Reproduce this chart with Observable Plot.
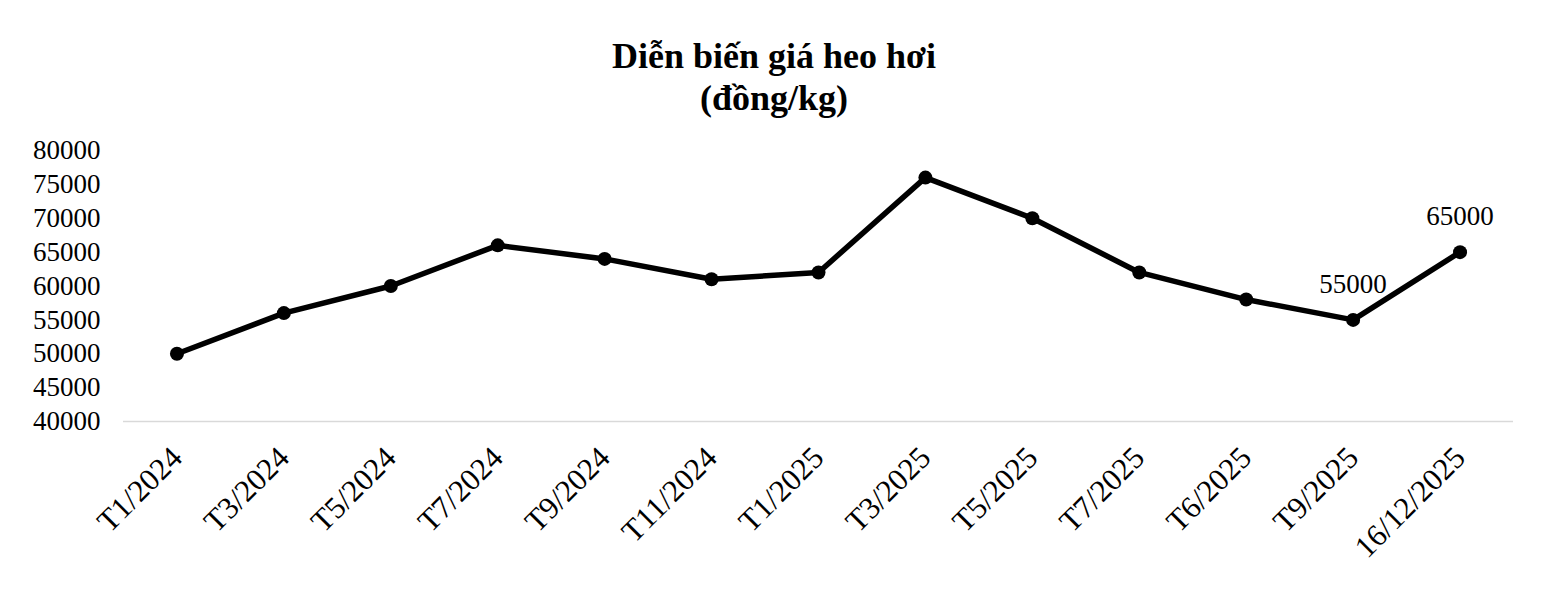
<!DOCTYPE html>
<html>
<head>
<meta charset="utf-8">
<script src="https://cdn.jsdelivr.net/npm/d3@7"></script>
<script src="https://cdn.jsdelivr.net/npm/@observablehq/plot@0.6"></script>
<style>
  html, body { margin: 0; padding: 0; background: #fff; }
  #title {
    box-sizing: border-box;
    height: 130px;
    padding-top: 35px;
    text-align: center;
    font-family: "Liberation Serif", "Times New Roman", serif;
    font-weight: bold;
    font-size: 36px;
    line-height: 42px;
    color: #000;
    width: 1548px;
  }
  #chart svg { display: block; }
</style>
</head>
<body>
<div id="title">Diễn biến giá heo hơi<br>(đồng/kg)</div>
<div id="chart"></div>
<script>
const categories = ["T1/2024","T3/2024","T5/2024","T7/2024","T9/2024","T11/2024","T1/2025","T3/2025","T5/2025","T7/2025","T6/2025","T9/2025","16/12/2025"];
const prices = [50000,56000,60000,66000,64000,61000,62000,76000,70000,62000,58000,55000,65000];
const labeledCategories = ["T9/2025","16/12/2025"];
const yTicks = [40000,45000,50000,55000,60000,65000,70000,75000,80000];

const data = categories.map((c, i) => ({cat: c, price: prices[i]}));
const labeled = data.filter(d => labeledCategories.includes(d.cat));

const chart = Plot.plot({
  width: 1548,
  height: 468,
  marginTop: 20,
  marginBottom: 177,
  marginLeft: 123,
  marginRight: 35,
  style: {fontFamily: "'Liberation Serif', 'Times New Roman', serif", fontSize: "27px", color: "#000", background: "#fff"},
  x: {type: "point", domain: categories, padding: 0.5, round: false},
  y: {domain: [40000, 80000]},
  marks: [
    Plot.ruleY([40000], {stroke: "#d9d9d9", strokeWidth: 1.5}),
    Plot.axisY({ticks: yTicks, tickSize: 0, tickPadding: 23, fontSize: 27, label: null, tickFormat: d3.format("d")}),
    Plot.axisX({tickSize: 0, tickRotate: -45, textAnchor: "end", lineAnchor: "middle", tickPadding: 31, dx: 0, fontSize: 31, label: null}),
    Plot.line(data, {x: "cat", y: "price", stroke: "#000", strokeWidth: 5.5, strokeLinejoin: "round"}),
    Plot.dot(data, {x: "cat", y: "price", r: 7, fill: "#000"}),
    Plot.text(labeled, {x: "cat", y: "price", text: d => String(d.price), lineAnchor: "bottom", dy: -27, fontSize: 27, fill: "#000"})
  ]
});
document.getElementById("chart").appendChild(chart);
</script>
</body>
</html>
